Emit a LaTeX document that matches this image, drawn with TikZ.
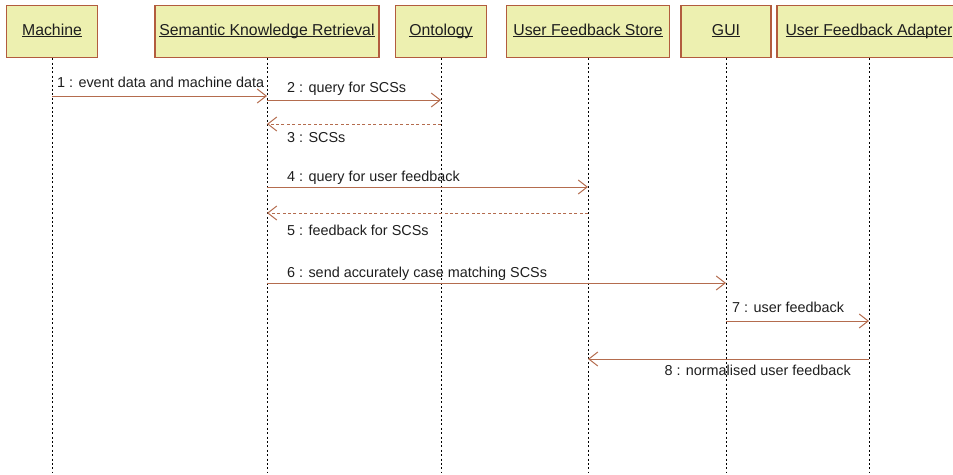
\documentclass[tikz,border=0pt]{standalone}
\usepackage{fontspec}
\setmainfont{Liberation Sans}
\usetikzlibrary{arrows.meta}
\definecolor{boxfill}{RGB}{237,240,176}
\definecolor{boxline}{RGB}{178,92,62}
\definecolor{msgline}{RGB}{180,108,78}
\definecolor{txt}{RGB}{30,30,30}
% underlined participant name, rule at a fixed distance below the baseline
\newcommand{\actorname}[1]{\underline{\smash{#1}\vphantom{x}}}
\tikzset{
  x=1pt, y=-1pt,
  actor/.style={draw=boxline, line width=1.1pt, fill=boxfill, minimum height=52pt,
    inner sep=0pt, text height=11pt, text depth=4pt,
    font=\fontsize{15.8}{18}\selectfont, text=txt, anchor=north},
  lifeline/.style={black, line width=0.9pt, dash pattern=on 2pt off 2.4pt},
  call/.style={msgline, line width=1pt, -{Straight Barb[length=9pt,width=14pt,line width=1pt]}},
  reply/.style={call, dash pattern=on 3pt off 2.4pt},
  lbl/.style={font=\fontsize{14.4}{16}\selectfont, text=txt, inner sep=0pt, anchor=base west},
}
\begin{document}
\begin{tikzpicture}
\useasboundingbox (0,0) rectangle (953,474);

% participant boxes
\begin{scope}
\clip (0,0) rectangle (953,474);
\node[actor, minimum width=91pt]  (machine) at (52,5)  {\actorname{Machine}};
\node[actor, minimum width=224pt] (skr)     at (267,5) {\actorname{Semantic Knowledge Retrieval}};
\node[actor, minimum width=91pt]  (onto)    at (441,5) {\actorname{Ontology}};
\node[actor, minimum width=163pt] (ufs)     at (588,5) {\actorname{User Feedback Store}};
\node[actor, minimum width=90pt]  (gui)     at (726,5) {\actorname{GUI}};
\node[actor, minimum width=184pt] (ufa)     at (869,5) {\actorname{User Feedback Adapter}};
\end{scope}

% lifelines
\coordinate (bottom) at (0,473);
\foreach \p in {machine,skr,onto,ufs,gui,ufa}{
  \draw[lifeline] (\p.south) -- (\p.south |- bottom);
}

% message rows
\coordinate (r1) at (0,96);
\coordinate (r2) at (0,100);
\coordinate (r3) at (0,124);
\coordinate (r4) at (0,187);
\coordinate (r5) at (0,213);
\coordinate (r6) at (0,283);
\coordinate (r7) at (0,321);
\coordinate (r8) at (0,359);

\draw[call]  (machine |- r1) -- (skr |- r1);
\draw[call]  (skr |- r2)     -- (onto |- r2);
\draw[reply] (onto |- r3)    -- (skr |- r3);
\draw[call]  (skr |- r4)     -- (ufs |- r4);
\draw[reply] (ufs |- r5)     -- (skr |- r5);
\draw[call]  (skr |- r6)     -- (gui |- r6);
\draw[call]  (gui |- r7)     -- (ufa |- r7);
\draw[call]  (ufa |- r8)     -- (ufs |- r8);

% message labels
\node[lbl] (l1) at (57,87)  {1 : event data and machine data};
\node[lbl] (l2) at (287,92) {2 : query for SCSs};
\node[lbl] (l3) at (287,142) {3 : SCSs};
\node[lbl] (l4) at (287,181) {4 : query for user feedback};
\node[lbl] (l5) at (287,235) {5 : feedback for SCSs};
\node[lbl] (l6) at (287,277) {6 : send accurately case matching SCSs};
\node[lbl] (l7) at (732,312) {7 : user feedback};
\node[lbl, anchor=base east] (l8) at (851,375) {8 : normalised user feedback};
\end{tikzpicture}
\end{document}
